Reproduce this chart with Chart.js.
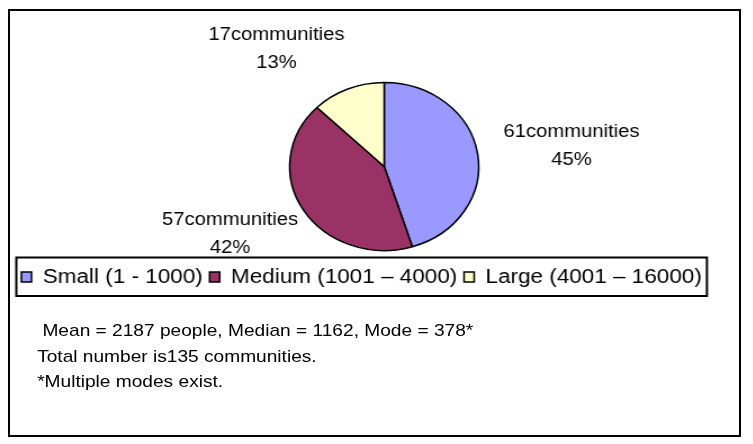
<!DOCTYPE html>
<html>
<head>
<meta charset="utf-8">
<title>Communities by size</title>
<script src="https://cdn.jsdelivr.net/npm/chart.js@4/dist/chart.umd.min.js"></script>
<style>
    html, body {
        margin: 0;
        padding: 0;
        background: #fff;
        overflow: hidden;
    }
    body {
        width: 753px;
        height: 444px;
        position: relative;
        font-family: "Liberation Sans", Arial, sans-serif;
    }
    .frame {
        position: absolute;
        left: 8px;
        top: 9px;
        width: 733px;
        height: 428px;
        border: 2px solid #000;
        box-sizing: border-box;
    }
    /* the whole sheet is drawn a bit narrow and then widened */
    .sheet {
        position: absolute;
        left: 0;
        top: 0;
        width: 670px;
        height: 444px;
        transform: scaleX(1.125);
        transform-origin: 0 0;
    }
    #pieChart {
        position: absolute;
        left: 12.6px;
        top: 0;
    }
    .notes {
        position: absolute;
        left: 33px;
        top: 318px;
        font-size: 17px;
        line-height: 25.5px;
        color: #000;
        white-space: pre;
    }
</style>
</head>
<body>
<div class="frame"></div>
<div class="sheet">
    <canvas id="pieChart" width="657" height="297"></canvas>
    <div class="notes"><div> Mean = 2187 people, Median = 1162, Mode = 378*</div><div>Total number is135 communities.</div><div>*Multiple modes exist.</div></div>
</div>

<script>
// Community size classes and how many communities fall in each
const categories = ['Small (1 - 1000)', 'Medium (1001 – 4000)', 'Large (4001 – 16000)'];
const communityCounts = [61, 57, 17];

const sliceColors = ['#9999FF', '#993366', '#FFFFCC'];
const labelFont = '18px "Liberation Sans", Arial, sans-serif';

// where each outside label sits, in pie radii from the centre
const labelPlacement = [
    { fx: 1.983, fy: -0.244 },
    { fx: -1.63, fy: 0.804 },
    { fx: -1.139, fy: -1.393 }
];

// "61communities / 45%" style labels beside each slice
const sliceLabels = {
    id: 'sliceLabels',
    afterDatasetsDraw(chart) {
        const ctx = chart.ctx;
        const meta = chart.getDatasetMeta(0);
        const values = chart.data.datasets[0].data;
        const total = values.reduce((a, b) => a + b, 0);

        ctx.save();
        ctx.font = labelFont;
        ctx.fillStyle = '#000';
        ctx.textAlign = 'center';
        ctx.textBaseline = 'middle';
        meta.data.forEach((arc, i) => {
            const { x, y, outerRadius } = arc.getProps(['x', 'y', 'outerRadius'], true);
            const cx = x + labelPlacement[i].fx * outerRadius;
            const cy = y + labelPlacement[i].fy * outerRadius;
            const pct = Math.round(values[i] / total * 100);
            ctx.fillText(values[i] + 'communities', cx, cy - 14);
            ctx.fillText(pct + '%', cx, cy + 14);
        });
        ctx.restore();
    }
};

// outline round the legend row
const legendFrame = {
    id: 'legendFrame',
    afterDraw(chart) {
        const boxes = chart.legend.legendHitBoxes;
        if (!boxes || !boxes.length) return;
        const first = boxes[0];
        const last = boxes[boxes.length - 1];
        const ctx = chart.ctx;
        ctx.save();
        ctx.strokeStyle = '#000';
        ctx.lineWidth = 2;
        const left = first.left - 4.5;
        const right = last.left + last.width + 4.5;
        const top = first.top - 9.5;
        const bottom = first.top + first.height + 9;
        ctx.strokeRect(left, top, right - left, bottom - top);
        ctx.restore();
    }
};

new Chart(document.getElementById('pieChart'), {
    type: 'pie',
    data: {
        labels: categories,
        datasets: [{
            data: communityCounts,
            backgroundColor: sliceColors,
            borderColor: '#000',
            borderWidth: 1.5
        }]
    },
    options: {
        responsive: false,
        animation: false,
        events: [],
        radius: 84,
        layout: {
            padding: { top: 72, left: 0, right: 0, bottom: 0 }
        },
        plugins: {
            legend: {
                position: 'bottom',
                align: 'start',
                labels: {
                    boxWidth: 9,
                    boxHeight: 10,
                    padding: 6,
                    color: '#000',
                    font: {
                        family: '"Liberation Sans", Arial, sans-serif',
                        size: 20
                    }
                }
            },
            tooltip: { enabled: false }
        }
    },
    plugins: [sliceLabels, legendFrame]
});
</script>
</body>
</html>
